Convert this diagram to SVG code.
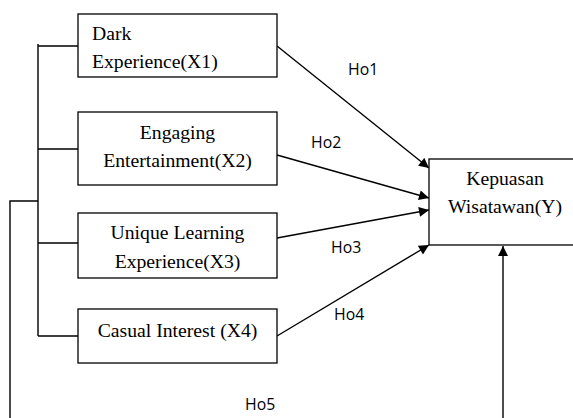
<svg xmlns="http://www.w3.org/2000/svg" width="573" height="418" viewBox="0 0 573 418">
<style>
.box{fill:#fff;stroke:#000;stroke-width:1.3}
.t{font-family:"Liberation Serif","Times New Roman",serif;font-size:19.7px;fill:#000}
.c{text-anchor:middle}
.lbl{font-family:"Open Sans","Liberation Sans",sans-serif;font-size:15.8px;fill:#000}
.ln{fill:none;stroke:#000;stroke-width:1.4}
</style>
<defs>
<marker id="ah" viewBox="0 0 10 10" refX="10" refY="5" markerWidth="11" markerHeight="10" markerUnits="userSpaceOnUse" orient="auto">
<path d="M0,0 L10,5 L0,10 z" fill="#000"/>
</marker>
</defs>
<rect width="573" height="418" fill="#fff"/>
<g id="connectors">
<path class="ln" d="M38,44 V336 M38,46 H78 M38,149 H78 M38,243 H78 M38,336 H78"/>
<path class="ln" d="M10,418 V201 H38"/>
<line class="ln" x1="277" y1="46" x2="429" y2="168" marker-end="url(#ah)"/>
<line class="ln" x1="277" y1="155" x2="429" y2="198" marker-end="url(#ah)"/>
<line class="ln" x1="277" y1="238" x2="429" y2="210" marker-end="url(#ah)"/>
<line class="ln" x1="277" y1="336" x2="429" y2="245" marker-end="url(#ah)"/>
<line class="ln" x1="503" y1="418" x2="503" y2="246" marker-end="url(#ah)"/>
<text class="lbl" x="348" y="75">Ho1</text>
<text class="lbl" x="311" y="148">Ho2</text>
<text class="lbl" x="331" y="253">Ho3</text>
<text class="lbl" x="334" y="320">Ho4</text>
<text class="lbl" x="245" y="410">Ho5</text>
</g>
<g id="x1">
<rect class="box" x="78" y="14" width="199" height="63"/>
<text class="t" x="92" y="40">Dark</text>
<text class="t" x="92" y="68">Experience(X1)</text>
</g>
<g id="x2">
<rect class="box" x="78" y="112" width="199" height="73"/>
<text class="t c" x="177.5" y="139">Engaging</text>
<text class="t c" x="177.5" y="167">Entertainment(X2)</text>
</g>
<g id="x3">
<rect class="box" x="78" y="213" width="199" height="65"/>
<text class="t c" x="177.5" y="239">Unique Learning</text>
<text class="t c" x="177.5" y="268">Experience(X3)</text>
</g>
<g id="x4">
<rect class="box" x="78" y="309" width="199" height="54"/>
<text class="t c" x="177.5" y="337">Casual Interest (X4)</text>
</g>
<g id="y">
<rect class="box" x="429" y="159" width="160" height="86"/>
<text class="t c" x="505" y="185">Kepuasan</text>
<text class="t c" x="505" y="213">Wisatawan(Y)</text>
</g>
</svg>
